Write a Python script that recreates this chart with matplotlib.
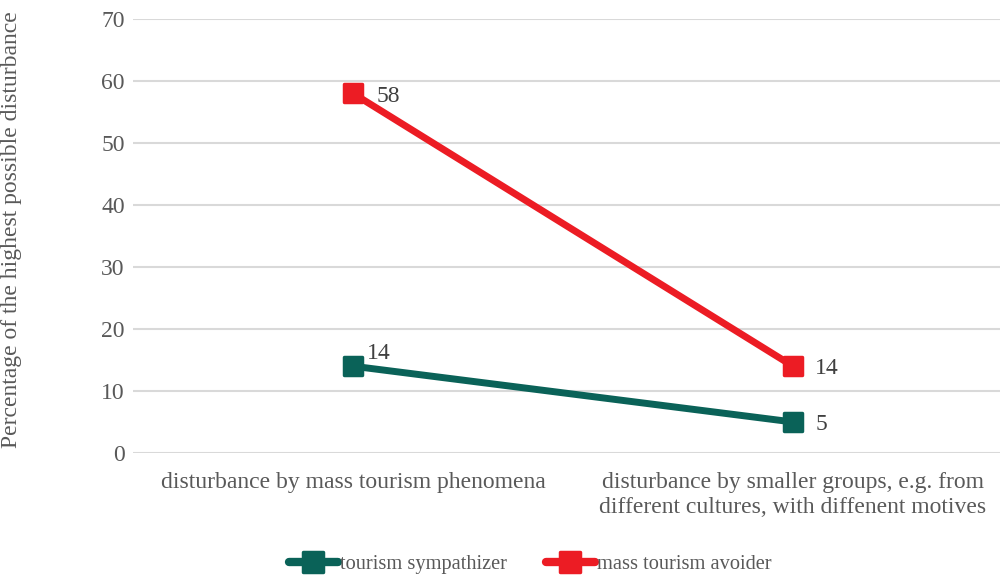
import matplotlib
matplotlib.use("Agg")
import matplotlib.pyplot as plt
from matplotlib.markers import MarkerStyle

plt.rcParams['font.family'] = ['Liberation Serif', 'DejaVu Serif']

categories = ["disturbance by mass tourism phenomena",
              "disturbance by smaller groups, e.g. from\ndifferent cultures, with diffenent motives"]
sympathizer = [14, 5]
avoider = [58, 14]
yticks = [0, 10, 20, 30, 40, 50, 60, 70]

teal = "#0A6258"
red = "#EC1C24"
grey = "#595959"
FS = 17

fig = plt.figure(figsize=(10, 5.78), dpi=100)
ax = fig.add_axes([0.133, (578 - 453) / 578, 0.88, 434 / 578])

x = [0, 1]
mk = MarkerStyle('s', joinstyle='round')
ax.plot(x, sympathizer, color=teal, lw=5, marker=mk, ms=13, mec=teal, mfc=teal,
        mew=2.5, solid_joinstyle='round', solid_capstyle='round', label="tourism sympathizer")
ax.plot(x, avoider, color=red, lw=5, marker=mk, ms=13, mec=red, mfc=red,
        mew=2.5, solid_joinstyle='round', solid_capstyle='round', label="mass tourism avoider")

# data labels
lc = "#404040"
ax.annotate(str(avoider[0]), (0, avoider[0]), xytext=(17, -2.5), textcoords='offset points',
            va='center', ha='left', fontsize=FS, color=lc)
ax.annotate(str(avoider[1]), (1, avoider[1]), xytext=(16, -2), textcoords='offset points',
            va='center', ha='left', fontsize=FS, color=lc)
ax.annotate(str(sympathizer[0]), (0, sympathizer[0]), xytext=(10, 9), textcoords='offset points',
            va='center', ha='left', fontsize=FS, color=lc)
ax.annotate(str(sympathizer[1]), (1, sympathizer[1]), xytext=(16, -1.5), textcoords='offset points',
            va='center', ha='left', fontsize=FS, color=lc)

ax.set_xlim(-0.5, 1.5)
ax.set_ylim(0, 70)
ax.set_yticks(yticks)
ax.set_xticks(x)
ax.set_xticklabels(categories, fontsize=FS, color=grey, linespacing=1.22)
ax.tick_params(axis='y', labelsize=FS, labelcolor=grey, length=0, pad=6)
ax.tick_params(axis='x', length=0, pad=14)
ax.grid(axis='y', color='#D9D9D9', lw=1.5)
ax.set_axisbelow(True)
for s in ax.spines.values():
    s.set_visible(False)

ax.set_ylabel("Percentage of the highest possible disturbance", fontsize=FS, color=grey)
ax.yaxis.set_label_coords(-0.126, 0.514)

leg = fig.legend(loc='center', bbox_to_anchor=(0.53, 0.024), ncol=2, frameon=False,
                 fontsize=14.7, handlelength=2.4, handletextpad=0.1, columnspacing=1.9)
for t in leg.get_texts():
    t.set_color(grey)
for h in leg.legend_handles:
    h.set_linewidth(6)
    h.set_markersize(14)

fig.savefig("out.png", dpi=100)
